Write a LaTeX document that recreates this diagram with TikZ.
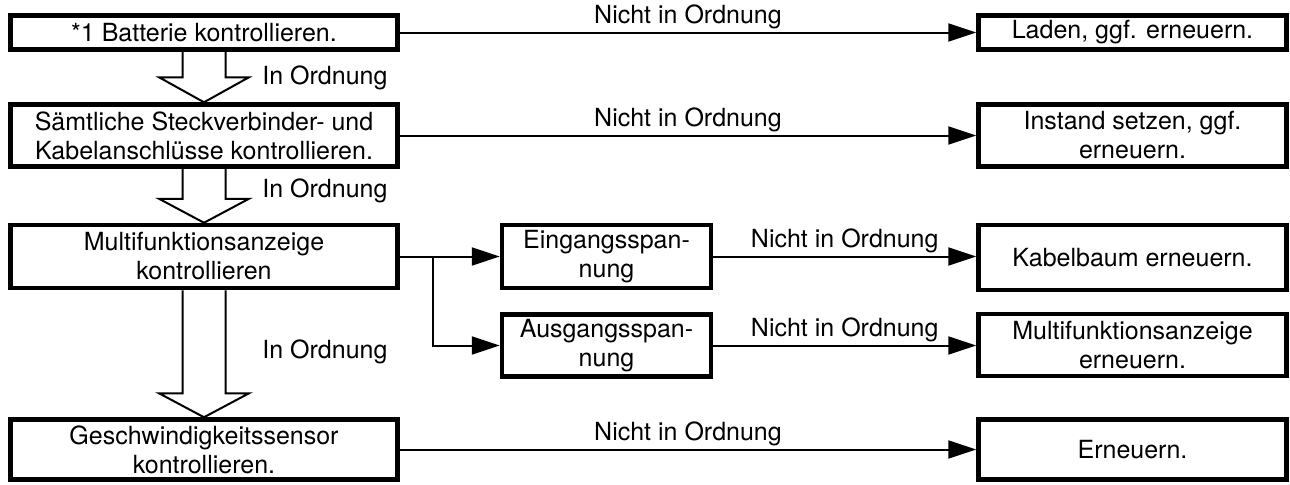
\documentclass[tikz,border=0pt]{standalone}
\usepackage{fontspec}
\setmainfont{TeX Gyre Heros}
\usetikzlibrary{arrows.meta,calc}
\begin{document}
\begin{tikzpicture}[x=0.5pt,y=-0.5pt,
  box/.style={draw,line width=2.25pt,align=center,inner sep=0pt,font=\fontsize{12.5}{14.5}\selectfont},
  conn/.style={line width=1pt,-{Triangle[length=14pt,width=9pt]}},
  lbl/.style={font=\fontsize{12.5}{14.5}\selectfont,inner sep=0pt},
  nio/.style={lbl,above=1.2pt,midway},
  hollow/.style={line width=1pt,line join=miter}]
\useasboundingbox (0,0) rectangle (1290,484);
% left column
\node[box,minimum width=193.5pt,minimum height=17pt] (b1) at (204,32.5) {*1 Batterie kontrollieren.};
\node[box,minimum width=193.5pt,minimum height=31pt] (b2) at (204,135.5) {Sämtliche Steckverbinder- und\\Kabelanschlüsse kontrollieren.};
\node[box,minimum width=193.5pt,minimum height=31.5pt] (b3) at (204,256.5) {Multifunktionsanzeige\\kontrollieren};
\node[box,minimum width=193.5pt,minimum height=30pt] (b4) at (204,449.5) {Geschwindigkeitssensor\\kontrollieren.};
% middle column
\node[box,minimum width=104.5pt,minimum height=31.5pt] (e) at (606.5,256.5) {Eingangsspan-\\nung};
\node[box,minimum width=104.5pt,minimum height=31pt] (a) at (606.5,345.5) {Ausgangsspan-\\nung};
% right column
\node[box,minimum width=154pt,minimum height=17pt] (r1) at (1132.5,32.5) {Laden, ggf. erneuern.};
\node[box,minimum width=154pt,minimum height=31pt] (r2) at (1132.5,135.5) {Instand setzen, ggf.\\erneuern.};
\node[box,minimum width=154pt,minimum height=32.5pt] (r3) at (1132.5,257.5) {Kabelbaum erneuern.};
\node[box,minimum width=154pt,minimum height=31pt] (r4) at (1132.5,345) {Multifunktionsanzeige\\erneuern.};
\node[box,minimum width=154pt,minimum height=30pt] (r5) at (1132.5,449.5) {Erneuern.};
% hollow arrows
\draw[hollow] ($(b1.south)+(-21.5,0)$) -- ($(b2.north)+(-21.5,-25)$) -- ($(b2.north)+(-45,-25)$) -- (b2.north) -- ($(b2.north)+(45,-25)$) -- ($(b2.north)+(21.5,-25)$) -- ($(b1.south)+(21.5,0)$);
\draw[hollow] ($(b2.south)+(-21.5,0)$) -- ($(b3.north)+(-21.5,-24)$) -- ($(b3.north)+(-45,-24)$) -- (b3.north) -- ($(b3.north)+(45,-24)$) -- ($(b3.north)+(21.5,-24)$) -- ($(b2.south)+(21.5,0)$);
\draw[hollow] ($(b3.south)+(-21.5,0)$) -- ($(b4.north)+(-21.5,-24)$) -- ($(b4.north)+(-45,-24)$) -- (b4.north) -- ($(b4.north)+(45,-24)$) -- ($(b4.north)+(21.5,-24)$) -- ($(b3.south)+(21.5,0)$);
\node[lbl,anchor=west] (ok1) at ($(b1.south)+(58,26)$) {In Ordnung};
\node[lbl,anchor=west] (ok2) at ($(b2.south)+(58,22)$) {In Ordnung};
\node[lbl,anchor=west] (ok3) at (262,352) {In Ordnung};
% connectors
\draw[conn] (b1.east) -- node[nio] (n1) {Nicht in Ordnung} (r1.west);
\draw[conn] (b2.east) -- node[nio] (n2) {Nicht in Ordnung} (r2.west);
\draw[conn] (b4.east) -- node[nio] (n5) {Nicht in Ordnung} (r5.west);
\coordinate (br) at ($(b3.east)+(33,0)$);
\draw[conn] (b3.east) -- (e.west);
\draw[conn] (br) |- (a.west);
\draw[conn] (e.east) -- node[nio] (n3) {Nicht in Ordnung} (e.east -| r3.west);
\draw[conn] (a.east) -- node[nio] (n4) {Nicht in Ordnung} (a.east -| r4.west);
\end{tikzpicture}
\end{document}
